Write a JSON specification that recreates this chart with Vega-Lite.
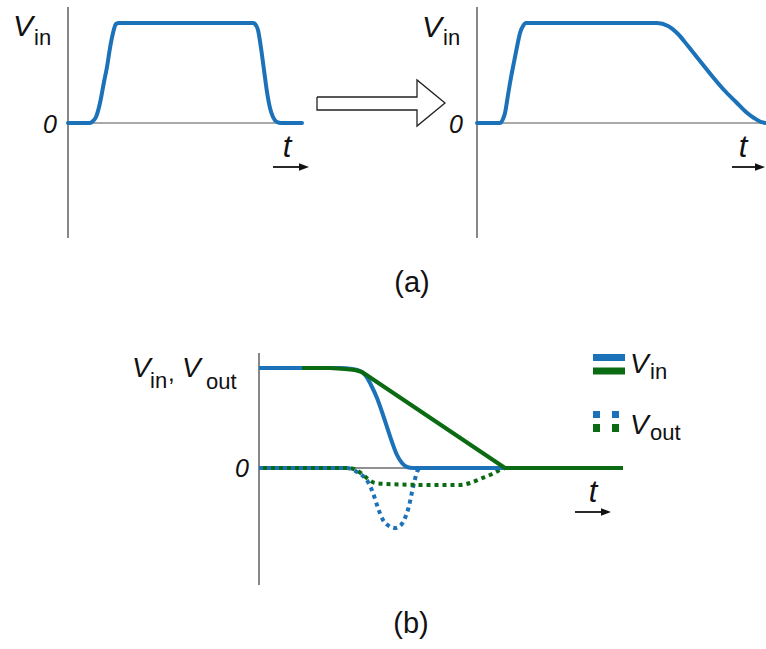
{
  "$schema": "https://vega.github.io/schema/vega-lite/v6.json",
  "padding": 0,
  "spacing": 0,
  "config": {
    "view": {"stroke": null},
    "text": {"font": "Liberation Sans", "baseline": "alphabetic", "color": "#111111"}
  },
  "vconcat": [
    {
      "hconcat": [
        {
          "width": 316,
          "height": 250,
          "encoding": {
            "x": {"field": "t", "type": "quantitative", "scale": {"domain": [-3.4, 12.4], "nice": false, "zero": false}, "axis": null},
            "y": {"field": "v", "type": "quantitative", "scale": {"domain": [-1.27, 1.23], "nice": false, "zero": false}, "axis": null}
          },
          "layer": [
            {"data": {"values": [{"t": 0, "v": -1.15, "v2": 1.16}]}, "mark": {"type": "rule", "color": "#555555", "strokeWidth": 1.4}, "encoding": {"y2": {"field": "v2"}}},
            {"data": {"values": [{"t": 0, "t2": 11.6, "v": 0}]}, "mark": {"type": "rule", "color": "#555555", "strokeWidth": 1.2}, "encoding": {"x2": {"field": "t2"}}},
            {
              "data": {"values": [
                {"t": 0, "v": 0}, {"t": 1.1, "v": 0}, {"t": 1.25, "v": 0.02}, {"t": 1.4, "v": 0.06}, {"t": 1.6, "v": 0.2},
                {"t": 1.8, "v": 0.41}, {"t": 1.95, "v": 0.56}, {"t": 2.1, "v": 0.75}, {"t": 2.25, "v": 0.9}, {"t": 2.4, "v": 0.99},
                {"t": 2.55, "v": 1.0}, {"t": 9.25, "v": 1.0}, {"t": 9.35, "v": 0.99}, {"t": 9.5, "v": 0.93}, {"t": 9.65, "v": 0.75},
                {"t": 9.8, "v": 0.53}, {"t": 9.95, "v": 0.31}, {"t": 10.1, "v": 0.15}, {"t": 10.25, "v": 0.06}, {"t": 10.45, "v": 0.01},
                {"t": 10.65, "v": 0}, {"t": 11.7, "v": 0}
              ]},
              "mark": {"type": "line", "color": "#1b72b9", "strokeWidth": 4, "interpolate": "monotone", "strokeCap": "round", "strokeJoin": "round"},
              "encoding": {}
            },
            {"data": {"values": [{"t": 10.25, "t2": 11.75, "v": -0.44}]}, "mark": {"type": "rule", "color": "#111111", "strokeWidth": 1.8}, "encoding": {"x2": {"field": "t2"}}},
            {"data": {"values": [{"t": 11.8, "v": -0.44}]}, "mark": {"type": "point", "shape": "M-1,-0.75L1,0L-1,0.75Z", "size": 100, "filled": true, "color": "#111111", "opacity": 1}, "encoding": {}},
            {"data": {"values": [{"t": -2.75, "v": 0.87, "s": "V"}]}, "mark": {"type": "text", "fontSize": 30, "fontStyle": "italic", "align": "left"}, "encoding": {"text": {"field": "s"}}},
            {"data": {"values": [{"t": -1.7, "v": 0.78, "s": "in"}]}, "mark": {"type": "text", "fontSize": 22, "align": "left"}, "encoding": {"text": {"field": "s"}}},
            {"data": {"values": [{"t": -0.55, "v": -0.1, "s": "0"}]}, "mark": {"type": "text", "fontSize": 25, "fontStyle": "italic", "align": "right"}, "encoding": {"text": {"field": "s"}}},
            {"data": {"values": [{"t": 10.95, "v": -0.34, "s": "t"}]}, "mark": {"type": "text", "fontSize": 31, "fontStyle": "italic", "align": "center"}, "encoding": {"text": {"field": "s"}}}
          ]
        },
        {
          "width": 450,
          "height": 250,
          "encoding": {
            "x": {"field": "t", "type": "quantitative", "scale": {"domain": [-8.05, 14.45], "nice": false, "zero": false}, "axis": null},
            "y": {"field": "v", "type": "quantitative", "scale": {"domain": [-1.27, 1.23], "nice": false, "zero": false}, "axis": null}
          },
          "layer": [
            {
              "data": {"values": [
                {"i": 0, "t": -8.0, "v": 0.26}, {"i": 1, "t": -3.0, "v": 0.26}, {"i": 2, "t": -3.0, "v": 0.43},
                {"i": 3, "t": -1.6, "v": 0.2}, {"i": 4, "t": -3.0, "v": -0.03}, {"i": 5, "t": -3.0, "v": 0.13},
                {"i": 6, "t": -8.0, "v": 0.13}, {"i": 7, "t": -8.0, "v": 0.26}
              ]},
              "mark": {"type": "line", "color": "#222222", "strokeWidth": 1.3, "interpolate": "linear", "strokeJoin": "miter"},
              "encoding": {"order": {"field": "i", "type": "quantitative"}}
            },
            {"data": {"values": [{"t": 0, "v": -1.15, "v2": 1.16}]}, "mark": {"type": "rule", "color": "#555555", "strokeWidth": 1.4}, "encoding": {"y2": {"field": "v2"}}},
            {"data": {"values": [{"t": 0, "t2": 14.45, "v": 0}]}, "mark": {"type": "rule", "color": "#555555", "strokeWidth": 1.2}, "encoding": {"x2": {"field": "t2"}}},
            {
              "data": {"values": [
                {"t": 0, "v": 0}, {"t": 1.15, "v": 0}, {"t": 1.3, "v": 0.04}, {"t": 1.4, "v": 0.1}, {"t": 1.55, "v": 0.28},
                {"t": 1.65, "v": 0.4}, {"t": 1.8, "v": 0.56}, {"t": 1.9, "v": 0.66}, {"t": 2.05, "v": 0.81}, {"t": 2.15, "v": 0.9},
                {"t": 2.3, "v": 0.97}, {"t": 2.45, "v": 1.0}, {"t": 9.0, "v": 1.0}, {"t": 9.55, "v": 0.97}, {"t": 10.05, "v": 0.89},
                {"t": 10.55, "v": 0.77}, {"t": 11.15, "v": 0.62}, {"t": 11.75, "v": 0.47}, {"t": 12.35, "v": 0.33}, {"t": 12.95, "v": 0.21},
                {"t": 13.45, "v": 0.11}, {"t": 13.85, "v": 0.05}, {"t": 14.15, "v": 0.015}, {"t": 14.4, "v": 0}
              ]},
              "mark": {"type": "line", "color": "#1b72b9", "strokeWidth": 4, "interpolate": "monotone", "strokeCap": "round", "strokeJoin": "round"},
              "encoding": {}
            },
            {"data": {"values": [{"t": 12.75, "t2": 14.05, "v": -0.44}]}, "mark": {"type": "rule", "color": "#111111", "strokeWidth": 1.8}, "encoding": {"x2": {"field": "t2"}}},
            {"data": {"values": [{"t": 14.15, "v": -0.44}]}, "mark": {"type": "point", "shape": "M-1,-0.75L1,0L-1,0.75Z", "size": 100, "filled": true, "color": "#111111", "opacity": 1}, "encoding": {}},
            {"data": {"values": [{"t": -2.75, "v": 0.86, "s": "V"}]}, "mark": {"type": "text", "fontSize": 30, "fontStyle": "italic", "align": "left"}, "encoding": {"text": {"field": "s"}}},
            {"data": {"values": [{"t": -1.7, "v": 0.78, "s": "in"}]}, "mark": {"type": "text", "fontSize": 22, "align": "left"}, "encoding": {"text": {"field": "s"}}},
            {"data": {"values": [{"t": -0.7, "v": -0.1, "s": "0"}]}, "mark": {"type": "text", "fontSize": 25, "fontStyle": "italic", "align": "right"}, "encoding": {"text": {"field": "s"}}},
            {"data": {"values": [{"t": 13.3, "v": -0.34, "s": "t"}]}, "mark": {"type": "text", "fontSize": 31, "fontStyle": "italic", "align": "center"}, "encoding": {"text": {"field": "s"}}}
          ]
        }
      ],
      "spacing": 0,
      "bounds": "flush"
    },
    {
      "width": 766,
      "height": 399,
      "encoding": {
        "x": {"field": "t", "type": "quantitative", "scale": {"domain": [-12.95, 25.35], "nice": false, "zero": false}, "axis": null},
        "y": {"field": "v", "type": "quantitative", "scale": {"domain": [-1.81, 2.18], "nice": false, "zero": false}, "axis": null}
      },
      "layer": [
        {"data": {"values": [{"t": 0, "v": -1.17, "v2": 1.15}]}, "mark": {"type": "rule", "color": "#555555", "strokeWidth": 1.4}, "encoding": {"y2": {"field": "v2"}}},
        {"data": {"values": [{"t": 0, "t2": 12.3, "v": 0}]}, "mark": {"type": "rule", "color": "#222222", "strokeWidth": 1}, "encoding": {"x2": {"field": "t2"}}},
        {
          "data": {"values": [
            {"t": 0, "v": 0}, {"t": 4.4, "v": 0}, {"t": 4.9, "v": -0.04}, {"t": 5.2, "v": -0.08}, {"t": 5.45, "v": -0.14},
            {"t": 5.7, "v": -0.25}, {"t": 5.95, "v": -0.4}, {"t": 6.2, "v": -0.52}, {"t": 6.5, "v": -0.58}, {"t": 6.8, "v": -0.6},
            {"t": 7.1, "v": -0.57}, {"t": 7.3, "v": -0.5}, {"t": 7.5, "v": -0.38}, {"t": 7.65, "v": -0.24}, {"t": 7.8, "v": -0.11},
            {"t": 7.95, "v": -0.02}, {"t": 8.15, "v": 0}, {"t": 12.3, "v": 0}
          ]},
          "mark": {"type": "line", "color": "#1b72b9", "strokeWidth": 4, "interpolate": "monotone", "strokeDash": [4, 4]},
          "encoding": {}
        },
        {
          "data": {"values": [
            {"t": 0, "v": 0}, {"t": 4.5, "v": 0}, {"t": 4.85, "v": -0.02}, {"t": 5.15, "v": -0.06}, {"t": 5.45, "v": -0.11},
            {"t": 5.8, "v": -0.15}, {"t": 6.4, "v": -0.16}, {"t": 8.7, "v": -0.17}, {"t": 10.05, "v": -0.17}, {"t": 10.55, "v": -0.15},
            {"t": 11.05, "v": -0.11}, {"t": 11.55, "v": -0.07}, {"t": 11.95, "v": -0.03}, {"t": 12.3, "v": 0}
          ]},
          "mark": {"type": "line", "color": "#0b6b12", "strokeWidth": 4, "interpolate": "monotone", "strokeDash": [4, 4], "strokeDashOffset": 4},
          "encoding": {}
        },
        {
          "data": {"values": [
            {"t": 0, "v": 1.0}, {"t": 4.05, "v": 1.0}, {"t": 4.65, "v": 0.99}, {"t": 5.05, "v": 0.97}, {"t": 5.35, "v": 0.92},
            {"t": 5.6, "v": 0.83}, {"t": 5.9, "v": 0.7}, {"t": 6.15, "v": 0.56}, {"t": 6.4, "v": 0.41}, {"t": 6.65, "v": 0.26},
            {"t": 6.9, "v": 0.13}, {"t": 7.15, "v": 0.05}, {"t": 7.4, "v": 0.01}, {"t": 7.7, "v": 0}, {"t": 12.3, "v": 0}
          ]},
          "mark": {"type": "line", "color": "#1b72b9", "strokeWidth": 4, "interpolate": "monotone"},
          "encoding": {}
        },
        {
          "data": {"values": [
            {"t": 2.15, "v": 1.0}, {"t": 3.55, "v": 1.0}, {"t": 4.3, "v": 0.99}, {"t": 4.8, "v": 0.98}, {"t": 5.15, "v": 0.96},
            {"t": 5.45, "v": 0.92}, {"t": 12.3, "v": 0}, {"t": 18.2, "v": 0}
          ]},
          "mark": {"type": "line", "color": "#0b6b12", "strokeWidth": 4, "interpolate": "linear", "strokeJoin": "round"},
          "encoding": {}
        },
        {"data": {"values": [{"t": 15.8, "t2": 17.2, "v": -0.44}]}, "mark": {"type": "rule", "color": "#111111", "strokeWidth": 1.8}, "encoding": {"x2": {"field": "t2"}}},
        {"data": {"values": [{"t": 17.35, "v": -0.44}]}, "mark": {"type": "point", "shape": "M-1,-0.75L1,0L-1,0.75Z", "size": 100, "filled": true, "color": "#111111", "opacity": 1}, "encoding": {}},
        {"data": {"values": [{"t": 16.7, "t2": 18.3, "v": 1.105}]}, "mark": {"type": "rule", "color": "#1b72b9", "strokeWidth": 7}, "encoding": {"x2": {"field": "t2"}}},
        {"data": {"values": [{"t": 16.7, "t2": 18.3, "v": 0.97}]}, "mark": {"type": "rule", "color": "#0b6b12", "strokeWidth": 7}, "encoding": {"x2": {"field": "t2"}}},
        {"data": {"values": [{"t": 16.7, "t2": 18.05, "v": 0.535}]}, "mark": {"type": "rule", "color": "#1b72b9", "strokeWidth": 7, "strokeDash": [7, 12]}, "encoding": {"x2": {"field": "t2"}}},
        {"data": {"values": [{"t": 16.7, "t2": 18.05, "v": 0.4}]}, "mark": {"type": "rule", "color": "#0b6b12", "strokeWidth": 8, "strokeDash": [7, 12]}, "encoding": {"x2": {"field": "t2"}}},
        {
          "data": {"values": [
            {"t": -6.35, "v": 0.91, "s": "V"}, {"t": -3.85, "v": 0.91, "s": "V"},
            {"t": 18.55, "v": 0.95, "s": "V"}, {"t": 18.55, "v": 0.34, "s": "V"}
          ]},
          "mark": {"type": "text", "fontSize": 28, "fontStyle": "italic", "align": "left"},
          "encoding": {"text": {"field": "s"}}
        },
        {
          "data": {"values": [
            {"t": -5.45, "v": 0.8, "s": "in"}, {"t": -2.65, "v": 0.79, "s": "out"},
            {"t": 19.55, "v": 0.89, "s": "in"}, {"t": 19.55, "v": 0.28, "s": "out"}
          ]},
          "mark": {"type": "text", "fontSize": 22, "align": "left"},
          "encoding": {"text": {"field": "s"}}
        },
        {"data": {"values": [{"t": -4.55, "v": 0.87, "s": ","}]}, "mark": {"type": "text", "fontSize": 24, "align": "left"}, "encoding": {"text": {"field": "s"}}},
        {"data": {"values": [{"t": -0.5, "v": -0.09, "s": "0"}]}, "mark": {"type": "text", "fontSize": 25, "fontStyle": "italic", "align": "right"}, "encoding": {"text": {"field": "s"}}},
        {"data": {"values": [{"t": 16.7, "v": -0.34, "s": "t"}]}, "mark": {"type": "text", "fontSize": 31, "fontStyle": "italic", "align": "center"}, "encoding": {"text": {"field": "s"}}},
        {
          "data": {"values": [{"t": 7.65, "v": 1.76, "s": "(a)"}, {"t": 7.6, "v": -1.65, "s": "(b)"}]},
          "mark": {"type": "text", "fontSize": 29, "align": "center"},
          "encoding": {"text": {"field": "s"}}
        }
      ]
    }
  ]
}
